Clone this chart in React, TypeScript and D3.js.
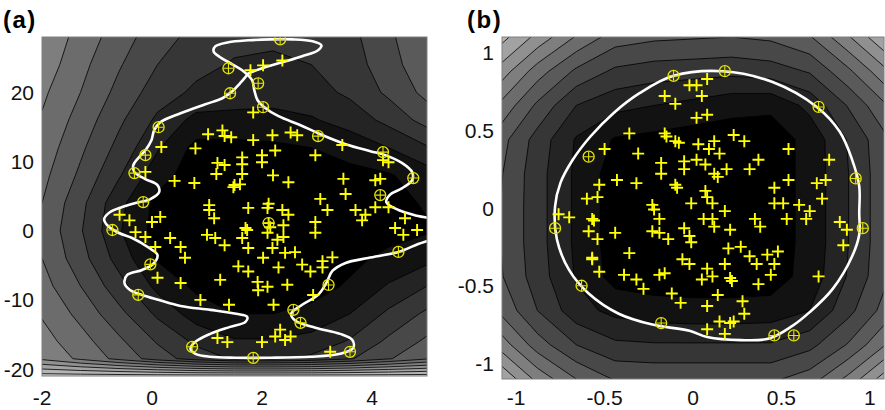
import React, { useEffect, useRef } from "react";
import * as d3 from "d3";

type Pt = [number, number];

// ---- panel (a) ----
const aGridX = [-2, -1.3, -0.6, 0.1, 0.8, 1.5, 2.2, 2.9, 3.6, 4.3, 5];
const aGridY = [28, 24, 20, 16, 12, 8, 4, 0, -4, -8, -12, -16, -18.5, -21];
const aLevelRows = [
  [7.4, 6.1, 5.0, 3.9, 3.2, 2.8, 2.7, 2.8, 3.2, 4.3, 5.4],
  [7.1, 5.8, 4.6, 3.5, 2.8, 2.4, 2.3, 2.5, 3.0, 4.1, 5.2],
  [6.7, 5.5, 4.2, 3.0, 2.3, 2.0, 1.9, 2.1, 2.7, 3.7, 4.8],
  [6.4, 5.1, 3.7, 2.3, 1.2, 1.2, 1.2, 1.4, 1.9, 2.8, 3.9],
  [6.1, 4.7, 3.2, 1.6, 0.2, 0.2, 0.3, 0.5, 0.9, 1.5, 2.4],
  [5.8, 4.3, 2.6, 0.9, 0.0, 0.0, 0.0, 0.1, 0.2, 0.4, 1.0],
  [5.5, 3.8, 1.8, 0.2, 0.0, 0.0, 0.0, 0.0, 0.1, 0.2, 0.6],
  [5.3, 3.6, 1.6, 0.1, 0.0, 0.0, 0.0, 0.0, 0.1, 0.2, 0.4],
  [5.5, 3.9, 2.1, 0.4, 0.1, 0.0, 0.0, 0.1, 0.3, 0.7, 1.2],
  [5.9, 4.5, 2.9, 1.2, 0.3, 0.1, 0.1, 0.2, 0.6, 1.6, 2.5],
  [6.4, 5.2, 3.8, 2.3, 1.0, 0.5, 0.5, 0.7, 1.5, 2.7, 3.7],
  [6.9, 5.9, 4.7, 3.4, 2.3, 1.6, 1.6, 1.9, 2.6, 3.7, 4.7],
  [7.3, 6.3, 5.2, 4.0, 3.0, 2.4, 2.4, 2.7, 3.4, 4.4, 5.4],
  [11, 11, 11, 11, 11, 11, 11, 11, 11, 11, 11],
];
const aThresholds = [0.5, 1.5, 2.5, 3.5, 4.5, 5.5, 6.5, 7.5, 8.5, 9.5, 10.5];

const aPoints: Pt[] = [
  [1.79, 23.2], [2.02, 23.9], [2.37, 24.6], [1.84, 17.1],
  [1.02, 13.95], [1.28, 14.5], [1.32, 13.7], [1.44, 13.5], [0.17, 12.1], [0.79, 11.9],
  [1.19, 9.8], [1.32, 9.5], [1.17, 8.2], [0.41, 7.2], [0.77, 6.9], [-0.12, 8.5],
  [1.5, 6.6], [1.04, 3.7], [2.19, 13.8], [1.84, 13.1], [2.52, 14.2], [2.64, 13.8],
  [2.24, 11.6], [2.0, 10.9], [2.0, 9.9], [1.64, 10.6], [1.64, 9.6], [2.97, 10.9],
  [1.64, 8.2], [2.2, 8.0], [2.48, 7.0], [3.46, 12.4], [3.48, 7.5], [3.52, 5.3],
  [3.06, 4.6], [2.12, 3.9], [4.06, 7.3], [4.15, 7.5], [4.2, 10.2], [4.3, 9.9],
  [1.6, 6.7], [1.48, 6.3],
  [-0.59, 2.3], [-0.41, 1.5], [0.0, 1.25], [0.15, 2.0], [-0.3, -0.2], [-0.12, -0.9],
  [0.06, -2.35], [0.33, -1.05], [0.52, -2.35], [0.6, -3.9], [1.04, 3.0], [1.13, 1.8],
  [1.0, -0.6], [1.15, -1.05], [1.32, -2.1], [0.1, -6.8], [0.52, -7.55], [1.24, -7.1],
  [0.88, -10.0], [1.4, -10.7], [1.19, -15.5], [1.37, -16.1],
  [1.75, 3.3], [2.1, 3.3], [2.37, 3.0], [2.48, 2.3], [1.7, 0.4], [2.12, 1.1],
  [2.1, -0.3], [2.39, 0.8], [2.39, -0.9], [2.97, 1.25], [2.97, -0.3], [1.64, -1.05],
  [1.75, -2.5], [2.19, -2.5], [2.42, -3.2], [2.6, -3.1], [1.57, -5.15], [1.75, -5.9],
  [2.3, -5.3], [2.73, -4.9], [2.88, -5.9], [3.1, -4.4], [3.1, -5.3], [3.28, -3.85],
  [1.92, -7.4], [1.93, -8.6], [2.1, -8.1], [2.46, -7.8], [2.93, -9.3], [2.21, -10.7],
  [2.33, -14.3], [2.24, -15.3], [2.42, -15.8], [2.0, -16.1], [2.52, -15.3], [3.24, -17.5],
  [3.19, 3.0], [3.7, 3.0], [3.88, 2.3], [4.06, 3.4], [4.3, 3.4], [3.82, 1.5],
  [4.6, 1.8], [4.42, 0.4], [4.82, 0.1], [4.57, -0.6], [2.15, 0.5], [2.28, -1.3],
  [2.02, -3.9], [1.73, 0.1],
];

const aSupport: Pt[] = [
  [2.33, 27.66], [1.39, 23.48], [1.93, 21.31], [1.42, 19.87], [2.02, 17.85],
  [0.12, 14.96], [3.02, 13.67], [-0.12, 10.92], [-0.32, 8.33], [4.2, 11.36],
  [4.75, 7.61], [4.15, 5.15], [-0.16, 4.14], [-0.72, 0.1], [4.48, -3.07],
  [-0.03, -4.86], [3.21, -7.84], [-0.25, -9.28], [2.57, -11.44], [2.7, -13.32],
  [0.73, -16.78], [1.84, -18.37], [3.6, -17.5], [2.12, 1.11],
];

// decision boundary, traced in order (crosses itself near the top)
const aBoundary: Pt[] = [
  [1.73, 22.61], [2.0, 23.48], [2.37, 24.35], [2.73, 25.21], [3.02, 26.08], [3.08, 26.8],
  [2.92, 27.38], [2.55, 27.66], [2.15, 27.66], [1.75, 27.52], [1.39, 27.23], [1.15, 26.65],
  [1.12, 25.93], [1.24, 25.07], [1.46, 24.06], [1.64, 23.19],
  [1.82, 21.75], [1.86, 20.31], [1.92, 18.86], [2.04, 17.85], [2.3, 16.55], [2.7, 15.25],
  [3.06, 13.95], [3.52, 12.51], [3.97, 11.5], [4.24, 10.93], [4.55, 9.77], [4.73, 8.47],
  [4.73, 7.32], [4.55, 6.16], [4.32, 5.15], [4.26, 4.14], [4.48, 2.99], [4.84, 2.12],
  [5.15, 1.54], [5.28, 0.25], [5.13, -1.05], [4.84, -1.91], [4.48, -3.07], [3.93, -3.94],
  [3.52, -4.66], [3.28, -5.82], [3.17, -7.55], [3.02, -9.28], [2.73, -10.71], [2.53, -12.01],
  [2.61, -13.02], [2.97, -14.03], [3.42, -14.91], [3.64, -15.77], [3.66, -16.93], [3.42, -17.79],
  [2.88, -18.22], [2.15, -18.36], [1.52, -18.36], [1.06, -18.22], [0.79, -17.79], [0.7, -17.07],
  [0.79, -16.06], [1.06, -14.91], [1.42, -13.9], [1.7, -13.17], [1.73, -12.44], [1.53, -12.01],
  [1.06, -11.44], [0.52, -10.87], [0.13, -10.01], [-0.18, -9.28], [-0.4, -8.56], [-0.5, -7.55],
  [-0.45, -6.39], [-0.18, -5.67], [0.02, -4.81], [0.1, -3.51], [-0.05, -2.5], [-0.36, -1.05],
  [-0.6, -0.33], [-0.8, 0.68], [-0.87, 1.69], [-0.76, 2.7], [-0.54, 3.42], [-0.3, 4.0],
  [-0.03, 4.57], [0.13, 5.59], [0.1, 6.59], [-0.12, 7.46], [-0.32, 8.47], [-0.34, 9.48],
  [-0.25, 10.49], [-0.12, 11.64], [-0.01, 13.09], [0.04, 14.53], [0.15, 15.69], [0.52, 16.98],
  [0.97, 18.28], [1.28, 19.15], [1.46, 20.16], [1.6, 21.31], [1.71, 22.32],
];

const aTicksX = [-2, 0, 2, 4];
const aTicksY = [-20, -10, 0, 10, 20];

// ---- panel (b) ----
const bGridX = [-1.1, -0.88, -0.66, -0.44, -0.22, 0, 0.22, 0.44, 0.66, 0.88, 1.1];
const bGridY = [1.1, 0.88, 0.66, 0.44, 0.22, 0, -0.22, -0.44, -0.66, -0.88, -1.1];
const bLevelRows = [
  [10.0, 8.2, 6.4, 5.0, 4.7, 4.6, 4.5, 4.7, 5.4, 7.4, 9.6],
  [8.2, 6.0, 4.3, 3.3, 3.0, 2.9, 2.8, 3.0, 3.6, 5.3, 7.4],
  [6.4, 4.3, 2.5, 1.8, 1.5, 1.2, 0.8, 0.7, 1.8, 3.6, 5.5],
  [5.0, 3.1, 1.4, 0.4, 0.2, 0.0, 0.0, 0.0, 0.8, 2.6, 4.4],
  [4.7, 2.9, 1.3, 0.0, 0.0, 0.0, 0.0, 0.0, 0.8, 2.5, 4.3],
  [4.6, 2.9, 1.3, 0.0, 0.0, 0.0, 0.0, 0.0, 0.8, 2.5, 4.3],
  [4.6, 2.9, 1.3, 0.0, 0.0, 0.0, 0.0, 0.0, 0.8, 2.5, 4.3],
  [4.7, 3.0, 1.4, 0.1, 0.0, 0.0, 0.0, 0.0, 0.9, 2.6, 4.4],
  [5.4, 3.5, 1.9, 1.2, 0.9, 0.8, 0.8, 0.9, 1.5, 3.2, 5.0],
  [7.2, 5.0, 3.5, 2.7, 2.6, 2.6, 2.6, 2.6, 3.2, 4.6, 6.6],
  [9.6, 7.2, 5.5, 4.4, 4.3, 4.3, 4.3, 4.3, 5.0, 6.8, 9.2],
];
const bThresholds = [0.5, 1.5, 2.5, 3.5, 4.5, 5.5, 6.5, 7.5, 8.5, 9.5];

const bPoints: Pt[] = [
  [-0.02, 0.79], [-0.16, 0.72], [-0.1, 0.67], [-0.36, 0.48], [-0.16, 0.48], [-0.15, 0.46],
  [-0.1, 0.43], [-0.08, 0.42], [-0.31, 0.35], [-0.5, 0.38], [-0.18, 0.29], [-0.18, 0.22],
  [-0.05, 0.3], [-0.05, 0.25], [-0.43, 0.18], [-0.32, 0.16], [-0.1, 0.15], [-0.09, 0.13],
  [-0.53, 0.15], [-0.54, 0.07], [-0.6, 0.06], [-0.23, 0.02], [-0.01, 0.03],
  [0.02, 0.79], [0.08, 0.83], [0.05, 0.72], [0.02, 0.58], [0.08, 0.6], [0.03, 0.41],
  [0.12, 0.43], [0.09, 0.38], [0.15, 0.35], [0.23, 0.47], [0.29, 0.43], [0.54, 0.38],
  [0.37, 0.31], [0.32, 0.25], [0.19, 0.25], [0.02, 0.31], [0.07, 0.28], [0.12, 0.22],
  [0.14, 0.2], [0.77, 0.31], [0.7, 0.16], [0.75, 0.18], [0.54, 0.18], [0.46, 0.13],
  [0.73, 0.06], [0.07, 0.11], [0.08, 0.07], [0.11, 0.03], [0.46, 0.03], [0.51, 0.03], [0.6, 0.02],
  [-0.76, -0.04], [-0.7, -0.06], [-0.56, -0.08], [-0.59, -0.15], [-0.54, -0.2], [-0.44, -0.16],
  [-0.23, -0.15], [-0.19, -0.16], [-0.14, -0.2], [-0.22, -0.01], [-0.19, -0.07], [-0.05, -0.13],
  [-0.02, -0.18], [-0.57, -0.33], [-0.53, -0.41], [-0.36, -0.29], [-0.39, -0.43], [-0.32, -0.46],
  [-0.28, -0.52], [-0.19, -0.43], [-0.16, -0.42], [-0.06, -0.33], [-0.02, -0.36], [-0.12, -0.55],
  [-0.07, -0.61],
  [0.06, -0.07], [0.11, -0.07], [0.12, -0.12], [0.18, -0.02], [0.21, -0.14], [0.35, -0.07],
  [0.38, -0.12], [0.53, -0.07], [0.66, -0.02], [0.64, -0.07], [0.83, -0.09], [0.87, -0.14],
  [0.85, -0.24], [-0.01, -0.22], [0.2, -0.26], [0.27, -0.25], [0.32, -0.31], [0.36, -0.36],
  [0.42, -0.3], [0.48, -0.28], [0.46, -0.36], [0.08, -0.39], [0.18, -0.36], [0.05, -0.46],
  [0.11, -0.44], [0.21, -0.45], [0.22, -0.47], [0.37, -0.49], [0.44, -0.43], [0.14, -0.56],
  [0.28, -0.6], [0.29, -0.68], [0.08, -0.63], [0.15, -0.73], [0.21, -0.74], [0.23, -0.73],
  [0.08, -0.78], [0.18, -0.81], [0.71, -0.44], [-0.57, -0.07], [-0.57, -0.32],
];

const bSupport: Pt[] = [
  [-0.11, 0.85], [0.18, 0.88], [0.71, 0.65], [0.92, 0.19], [0.96, -0.13], [0.57, -0.82],
  [0.46, -0.82], [-0.18, -0.74], [-0.63, -0.5], [-0.78, -0.13], [-0.59, 0.33],
];

const bBoundary: Pt[] = [
  [0.17, 0.88], [0.45, 0.81], [0.7, 0.65], [0.83, 0.49], [0.9, 0.31], [0.94, 0.14],
  [0.94, -0.03], [0.94, -0.17], [0.9, -0.31], [0.79, -0.52], [0.66, -0.67], [0.56, -0.76],
  [0.43, -0.84], [0.27, -0.85], [0.08, -0.83], [-0.02, -0.79], [-0.23, -0.75], [-0.42, -0.68],
  [-0.59, -0.55], [-0.7, -0.4], [-0.77, -0.2], [-0.78, 0.01], [-0.75, 0.16], [-0.68, 0.31],
  [-0.58, 0.46], [-0.45, 0.61], [-0.3, 0.74], [-0.11, 0.85],
];

const bTicksX = [-1, -0.5, 0, 0.5, 1];
const bTicksY = [-1, -0.5, 0, 0.5, 1];

const FONT = "'Liberation Sans', Arial, Helvetica, sans-serif";

// grey for the band above threshold t
const shade = (t: number) => {
  const v = Math.min(255, Math.round(18 * (t + 0.5)));
  return `rgb(${v},${v},${v})`;
};

function drawPanel(root: any, cfg: any) {
  const { id, box, xDomain, yDomain, gridX, gridY, levels, thresholds } = cfg;
  const x = d3.scaleLinear().domain(xDomain).range([box.left, box.right]);
  const y = d3.scaleLinear().domain(yDomain).range([box.bottom, box.top]);

  const g = root.append("g");
  g.append("clipPath").attr("id", `clip-${id}`)
    .append("rect")
    .attr("x", box.left).attr("y", box.top)
    .attr("width", box.right - box.left).attr("height", box.bottom - box.top);

  const plot = g.append("g").attr("clip-path", `url(#clip-${id})`);
  plot.append("rect")
    .attr("x", box.left).attr("y", box.top)
    .attr("width", box.right - box.left).attr("height", box.bottom - box.top)
    .attr("fill", "#000");

  // grid index -> data coordinate (grid values sit at index + 0.5)
  const ix = d3.scaleLinear().domain(d3.range(gridX.length)).range(gridX);
  const iy = d3.scaleLinear().domain(d3.range(gridY.length)).range(gridY);
  const proj = d3.geoTransform({
    point(px: number, py: number) {
      this.stream.point(x(ix(px - 0.5)), y(iy(py - 0.5)));
    },
  });
  const path = d3.geoPath(proj);
  const bands = d3.contours()
    .size([gridX.length, gridY.length])
    .thresholds(thresholds)(levels);

  plot.selectAll("path.band").data(bands).join("path")
    .attr("class", "band")
    .attr("d", path)
    .attr("fill", (d: any) => shade(d.value))
    .attr("fill-rule", "evenodd");

  plot.selectAll("path.iso").data(bands).join("path")
    .attr("class", "iso")
    .attr("d", path)
    .attr("fill", "none")
    .attr("stroke", "#000")
    .attr("stroke-width", 0.8);

  // decision boundary
  const line = d3.line<Pt>()
    .x(d => x(d[0])).y(d => y(d[1]))
    .curve(d3.curveCatmullRomClosed.alpha(0.5));
  plot.append("path")
    .attr("d", line(cfg.boundary))
    .attr("fill", "none")
    .attr("stroke", "#fff")
    .attr("stroke-width", 2.6);

  // samples
  const arm = 6;
  plot.append("g").selectAll("path").data(cfg.points).join("path")
    .attr("d", (d: Pt) => {
      const cx = x(d[0]), cy = y(d[1]);
      return `M${cx - arm},${cy}H${cx + arm}M${cx},${cy - arm}V${cy + arm}`;
    })
    .attr("stroke", "#ffff00")
    .attr("stroke-width", 1.9);

  // support vectors
  const sv = plot.append("g").selectAll("g").data(cfg.support).join("g")
    .attr("transform", (d: Pt) => `translate(${x(d[0])},${y(d[1])})`);
  sv.append("circle").attr("r", 5.5).attr("fill", "none")
    .attr("stroke", "#e6e600").attr("stroke-width", 1.3);
  sv.append("path").attr("d", "M-5,0H5M0,-5V5")
    .attr("stroke", "#e6e600").attr("stroke-width", 1.1);

  g.append("rect")
    .attr("x", box.left).attr("y", box.top)
    .attr("width", box.right - box.left).attr("height", box.bottom - box.top)
    .attr("fill", "none").attr("stroke", "#808080").attr("stroke-width", 1);

  // tick labels
  g.append("g").selectAll("text").data(cfg.ticksX).join("text")
    .attr("x", (d: number) => x(d))
    .attr("y", 405)
    .attr("text-anchor", "middle")
    .attr("font-family", FONT).attr("font-size", 21).attr("fill", "#111")
    .text((d: number) => String(d));

  g.append("g").selectAll("text").data(cfg.ticksY).join("text")
    .attr("x", box.left - 8)
    .attr("y", (d: number) => y(d))
    .attr("dy", "0.36em")
    .attr("text-anchor", "end")
    .attr("font-family", FONT).attr("font-size", 21).attr("fill", "#111")
    .text((d: number) => String(d));

  g.append("text")
    .attr("x", cfg.labelX).attr("y", 28)
    .attr("font-family", FONT).attr("font-size", 24).attr("font-weight", "bold")
    .attr("letter-spacing", 1.5)
    .text(cfg.label);
}

const App = () => {
  const ref = useRef<SVGSVGElement>(null);

  useEffect(() => {
    const svg = d3.select(ref.current);
    svg.selectAll("*").remove();

    drawPanel(svg, {
      id: "a",
      label: "(a)",
      labelX: 3,
      box: { left: 42, right: 427, top: 37, bottom: 376 },
      xDomain: [-2, 5],
      yDomain: [-21, 28],
      gridX: aGridX,
      gridY: aGridY,
      levels: aLevelRows.flat(),
      thresholds: aThresholds,
      points: aPoints,
      support: aSupport,
      boundary: aBoundary,
      ticksX: aTicksX,
      ticksY: aTicksY,
    });

    drawPanel(svg, {
      id: "b",
      label: "(b)",
      labelX: 467,
      box: { left: 502, right: 884, top: 37, bottom: 379 },
      xDomain: [-1.08, 1.08],
      yDomain: [-1.1, 1.1],
      gridX: bGridX,
      gridY: bGridY,
      levels: bLevelRows.flat(),
      thresholds: bThresholds,
      points: bPoints,
      support: bSupport,
      boundary: bBoundary,
      ticksX: bTicksX,
      ticksY: bTicksY,
    });
  }, []);

  return (
    <svg
      ref={ref}
      width={885}
      height={410}
      style={{ position: "absolute", left: 0, top: 0, background: "#fff" }}
    />
  );
};

export default App;
